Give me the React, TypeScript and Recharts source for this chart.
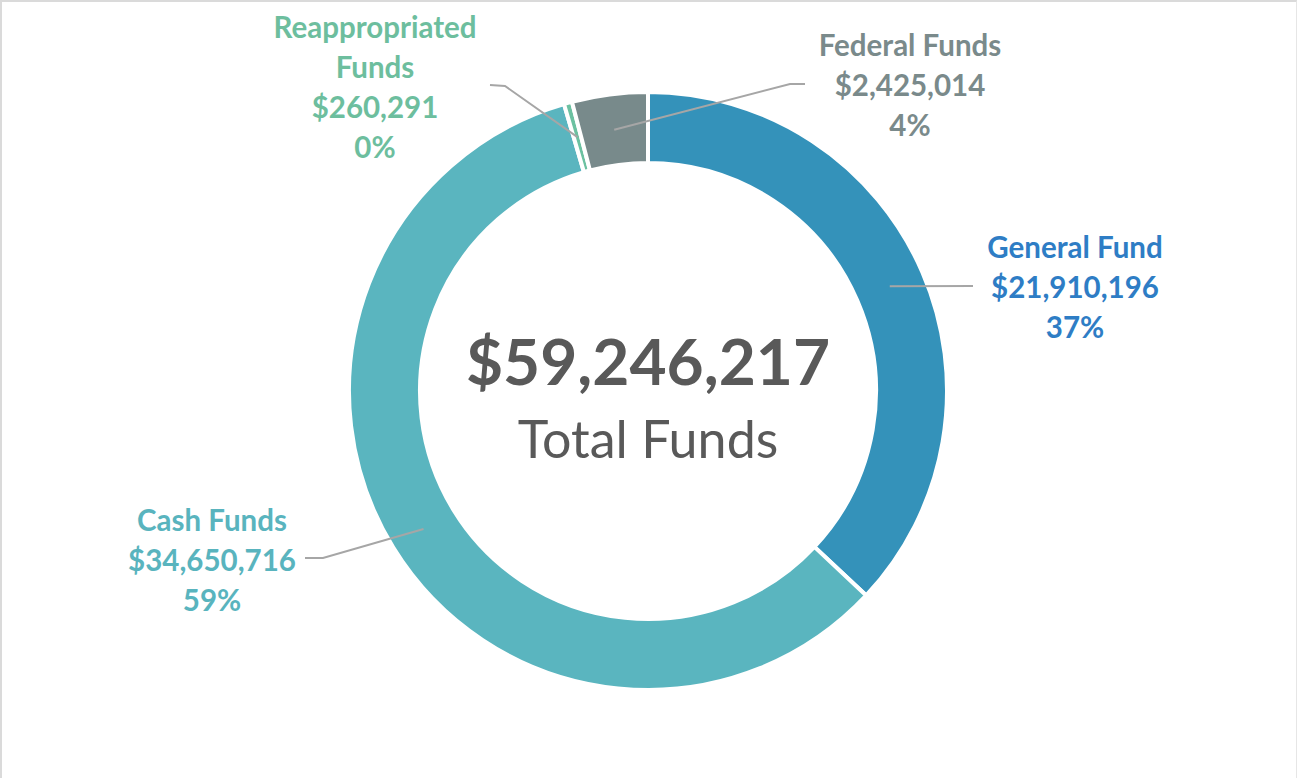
import React from 'react';
import { PieChart, Pie, Cell } from 'recharts';

const categories = ['General Fund', 'Cash Funds', 'Reappropriated Funds', 'Federal Funds'];
const values = [21910196, 34650716, 260291, 2425014];
const labelTitles = [['General Fund'], ['Cash Funds'], ['Reappropriated', 'Funds'], ['Federal Funds']];
const percentLabels = ['37%', '59%', '0%', '4%'];
const totalCaption = 'Total Funds';

const sliceColors = ['#3492BA', '#5AB5BF', '#6CC1A1', '#788A8B'];
const textColors = ['#2E7DC5', '#59B4BE', '#6DBE9E', '#7A8A8B'];

// label layout (offsets from pie centre, px): elbow of leader line, end of leader line, text centre x, first text line centre y
const labelLayout = [
  { elbow: [325, -105], end: [325, -105], tx: 427, ty: -144 },
  { elbow: [-325, 167], end: [-343, 167], tx: -436, ty: 129 },
  { elbow: [-143, -305], end: [-158, -306], tx: -273, ty: -364 },
  { elbow: [142, -307], end: [157, -307], tx: 262, ty: -346 },
];

const data = categories.map((name, i) => ({ name, value: values[i] }));
const total = values.reduce((a, b) => a + b, 0);
const fmt = (v: number) => '$' + v.toLocaleString('en-US');
const FONT = 'Lato, "Open Sans", sans-serif';
const RAD = Math.PI / 180;

const renderLabel = (props: any) => {
  const { cx, cy, midAngle, innerRadius, outerRadius, index, value } = props;
  const r = (innerRadius + outerRadius) / 2;
  const sx = cx + r * Math.cos(-midAngle * RAD);
  const sy = cy + r * Math.sin(-midAngle * RAD);
  const lay = labelLayout[index];
  const ex = cx + lay.elbow[0];
  const ey = cy + lay.elbow[1];
  const fx = cx + lay.end[0];
  const fy = cy + lay.end[1];
  const lines = [...labelTitles[index], fmt(value), percentLabels[index]];
  const fs = 29.5;
  const tx = cx + lay.tx;
  const ty0 = cy + lay.ty;
  return (
    <g key={`lbl-${index}`}>
      <polyline points={`${sx},${sy} ${ex},${ey} ${fx},${fy}`} fill="none" stroke="#A6A6A6" strokeWidth={2} />
      {lines.map((t, j) => (
        <text
          key={j}
          x={tx}
          y={ty0 + j * 40 + fs * 0.36}
          textAnchor="middle"
          fontFamily={FONT}
          fontWeight={700}
          fontSize={fs}
          fill={textColors[index]}
        >
          {t}
        </text>
      ))}
      {index === 0 && (
        <g>
          <text x={cx} y={cy - 29 + 23} textAnchor="middle" fontFamily={FONT} fontWeight={700} fontSize={64} fill="#595959">
            {fmt(total)}
          </text>
          <text x={cx} y={cy + 49 + 18} textAnchor="middle" fontFamily={FONT} fontWeight={400} fontSize={52} fill="#595959">
            {totalCaption}
          </text>
        </g>
      )}
    </g>
  );
};

export default function App() {
  return (
    <div
      style={{
        position: 'absolute',
        left: 0,
        top: 0,
        width: 1297,
        height: 778,
        background: '#fff',
        boxSizing: 'border-box',
        borderTop: '2px solid #DADADA',
        borderLeft: '2px solid #DADADA',
        borderRight: '1px solid #E6E6E6',
      }}
    >
      <div style={{ position: 'absolute', left: -2, top: -2 }}>
        <PieChart width={1297} height={778} margin={{ top: 0, right: 0, bottom: 0, left: 0 }}>
          <Pie
            data={data}
            dataKey="value"
            nameKey="name"
            cx={648}
            cy={391}
            innerRadius={228}
            outerRadius={299}
            startAngle={90}
            endAngle={-270}
            stroke="#FFFFFF"
            strokeWidth={4}
            label={renderLabel}
            labelLine={false}
            isAnimationActive={false}
          >
            {data.map((d, i) => (
              <Cell key={d.name} fill={sliceColors[i]} />
            ))}
          </Pie>
        </PieChart>
      </div>
    </div>
  );
}
